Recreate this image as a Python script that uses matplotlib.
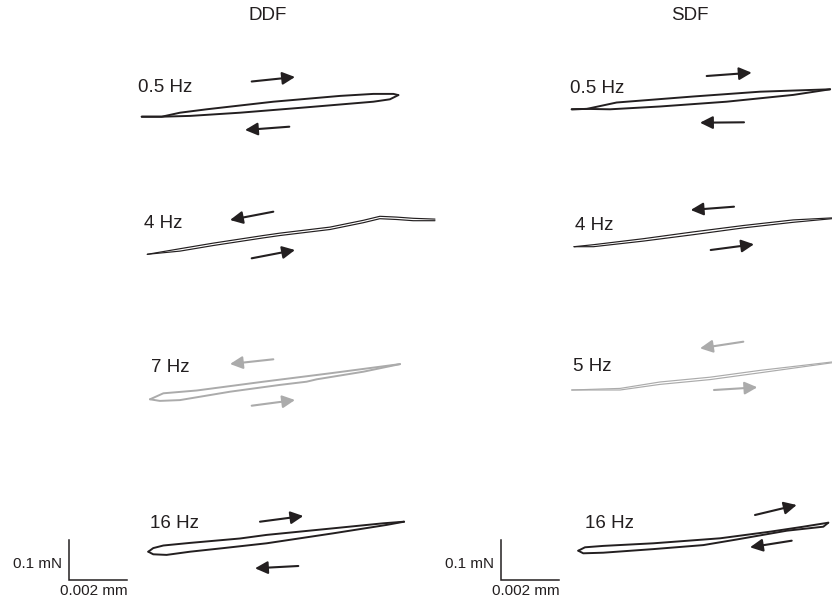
"""Force-displacement loops, DDF vs SDF at several stimulus frequencies."""

import matplotlib

matplotlib.use("Agg")
import matplotlib.pyplot as plt

plt.rcParams["font.family"] = ["Liberation Sans", "DejaVu Sans"]

# ---- data: displacement in um (relative to loop start), force in mN ----
# DDF 0.5 Hz (closed loop: out along upper branch, back along lower)
ddf05_up_x = [0, 0.69, 1.32, 2.24, 4.54, 6.84, 7.99, 8.68, 8.85]
ddf05_up_f = [0, 0.000, 0.010, 0.0185, 0.0375, 0.052, 0.057, 0.057, 0.054]
ddf05_lo_x = [8.85, 8.56, 7.99, 5.69, 3.39, 1.67, 0.69, 0]
ddf05_lo_f = [0.054, 0.0435, 0.0375, 0.0235, 0.010, 0.002, 0.000, 0]

# DDF 4 Hz (narrow, nearly overlapping branches)
ddf4_x = [0, 1.13, 2.28, 4.00, 4.58, 6.30, 7.45, 8.02, 8.60, 9.17, 9.92]
ddf4_up_f = [0, 0.014, 0.028, 0.047, 0.053, 0.068, 0.085, 0.095, 0.093, 0.090, 0.088]
ddf4_lo_f = [0, 0.008, 0.022, 0.041, 0.047, 0.062, 0.079, 0.089, 0.087, 0.084, 0.084]

# DDF 7 Hz
ddf7_up_x = [0, 0.46, 1.61, 3.91, 6.21, 8.62]
ddf7_up_f = [0, 0.015, 0.022, 0.044, 0.065, 0.088]
ddf7_lo_x = [8.62, 7.36, 5.75, 5.40, 4.48, 2.76, 1.03, 0.34, 0]
ddf7_lo_f = [0.088, 0.069, 0.050, 0.044, 0.036, 0.019, -0.002, -0.004, 0]

# DDF 16 Hz
ddf16_up_x = [0, 0.17, 0.52, 1.44, 3.16, 4.08, 6.38, 8.10, 8.82]
ddf16_up_f = [0, 0.009, 0.0155, 0.022, 0.033, 0.042, 0.0585, 0.071, 0.075]
ddf16_lo_x = [8.82, 8.22, 6.38, 4.08, 2.59, 1.44, 0.63, 0.17, 0]
ddf16_lo_f = [0.075, 0.067, 0.046, 0.021, 0.009, 0.000, -0.008, -0.0065, 0]

# SDF 0.5 Hz
sdf05_up_x = [0, 0.52, 1.55, 4.19, 6.49, 8.91]
sdf05_up_f = [0, 0.001, 0.017, 0.032, 0.044, 0.050]
sdf05_lo_x = [8.91, 7.64, 5.34, 3.04, 1.32, 0.52, 0]
sdf05_lo_f = [0.050, 0.036, 0.019, 0.007, 0.000, 0.001, 0]

# SDF 4 Hz
sdf4_x = [0, 0.67, 2.39, 4.11, 5.84, 7.56, 8.89]
sdf4_up_f = [0, 0.005, 0.020, 0.037, 0.053, 0.067, 0.072]
sdf4_lo_f = [0, 0.000, 0.014, 0.030, 0.047, 0.061, 0.070]

# SDF 5 Hz
sdf5_x = [0, 1.67, 3.04, 4.77, 6.49, 8.97]
sdf5_up_f = [0, 0.004, 0.020, 0.032, 0.049, 0.070]
sdf5_lo_f = [0, 0.000, 0.014, 0.026, 0.043, 0.068]

# SDF 16 Hz
sdf16_up_x = [0, 0.23, 0.86, 2.59, 4.89, 6.61, 7.76, 8.62]
sdf16_up_f = [0, 0.0085, 0.012, 0.0185, 0.031, 0.0475, 0.060, 0.070]
sdf16_lo_x = [8.62, 8.45, 7.19, 5.46, 4.31, 2.59, 0.86, 0.17, 0]
sdf16_lo_f = [0.070, 0.060, 0.050, 0.028, 0.014, 0.004, -0.005, -0.0065, 0]

col_titles = ["DDF", "SDF"]
scale_disp_um = 2.0      # 0.002 mm
scale_force_mN = 0.1

BLACK = "#231f20"
GREY = "#ababab"

# ---- layout (figure pixels -> data units) ----
W, H = 832, 600
PX_PER_UM, PX_PER_MN = 29.0, 400.0


def px(x, y):
    return x / PX_PER_UM, (H - y) / PX_PER_MN


fig = plt.figure(figsize=(W / 100, H / 100), dpi=100)
ax = fig.add_axes([0, 0, 1, 1])
ax.set_xlim(0, W / PX_PER_UM)
ax.set_ylim(0, H / PX_PER_MN)
ax.axis("off")


def loop(anchor, xs_up, fs_up, xs_lo, fs_lo, color, lw):
    ox, oy = px(*anchor)
    ax.plot([ox + v for v in xs_up], [oy + v for v in fs_up], color=color, lw=lw,
            solid_capstyle="round", solid_joinstyle="round")
    ax.plot([ox + v for v in xs_lo], [oy + v for v in fs_lo], color=color, lw=lw,
            solid_capstyle="round", solid_joinstyle="round")


def arrow(start, end, color):
    ax.annotate("", xy=px(*end), xytext=px(*start),
                arrowprops=dict(arrowstyle="-|>", color=color, lw=1.5,
                                mutation_scale=19, shrinkA=0, shrinkB=0))


def label(pos, text):
    ax.text(*px(*pos), text, fontsize=13.5, color=BLACK, ha="left", va="center")


# column headings
ax.text(*px(268, 15), col_titles[0], fontsize=13.5, color=BLACK, ha="center", va="center")
ax.text(*px(690, 15), col_titles[1], fontsize=13.5, color=BLACK, ha="center", va="center")

# DDF column
loop((141.7, 116.7), ddf05_up_x, ddf05_up_f, ddf05_lo_x, ddf05_lo_f, BLACK, 1.4)
label((138, 88), "0.5 Hz")
arrow((251.7, 81.5), (295, 77), BLACK)
arrow((289.3, 126.7), (245, 130), BLACK)

loop((147.3, 254.3), ddf4_x, ddf4_up_f, ddf4_x, ddf4_lo_f, BLACK, 0.85)
label((144, 224), "4 Hz")
arrow((273.3, 211.7), (230, 220), BLACK)
arrow((251.7, 258.3), (295, 250), BLACK)

loop((150, 399.3), ddf7_up_x, ddf7_up_f, ddf7_lo_x, ddf7_lo_f, GREY, 1.4)
label((151, 368), "7 Hz")
arrow((273.3, 359.3), (230, 364), GREY)
arrow((251.7, 405.7), (295, 400), GREY)

loop((148.3, 551.7), ddf16_up_x, ddf16_up_f, ddf16_lo_x, ddf16_lo_f, BLACK, 1.4)
label((150, 524), "16 Hz")
arrow((260, 521.7), (303.3, 516), BLACK)
arrow((298.3, 566), (255, 568.3), BLACK)

# SDF column
loop((571.7, 109.3), sdf05_up_x, sdf05_up_f, sdf05_lo_x, sdf05_lo_f, BLACK, 1.4)
label((570, 88.7), "0.5 Hz")
arrow((706.7, 76), (751.7, 72.7), BLACK)
arrow((744, 122.3), (700, 122.7), BLACK)

loop((574, 246.7), sdf4_x, sdf4_up_f, sdf4_x, sdf4_lo_f, BLACK, 0.85)
label((575, 225), "4 Hz")
arrow((734, 206.7), (690.7, 210), BLACK)
arrow((710.7, 250), (754, 244.3), BLACK)

loop((571.7, 390), sdf5_x, sdf5_up_f, sdf5_x, sdf5_lo_f, GREY, 0.85)
label((573, 366.7), "5 Hz")
arrow((743.3, 341.7), (700, 348.3), GREY)
arrow((714, 390), (757.3, 387.3), GREY)

loop((578.3, 550.7), sdf16_up_x, sdf16_up_f, sdf16_lo_x, sdf16_lo_f, BLACK, 1.4)
label((585, 524), "16 Hz")
arrow((755, 515), (796.7, 505), BLACK)
arrow((791.7, 540.7), (750, 547.3), BLACK)

# scale bars
for corner in [(69, 580), (500.7, 580)]:
    cx, cy = px(*corner)
    ax.plot([cx, cx, cx + scale_disp_um], [cy + scale_force_mN, cy, cy],
            color=BLACK, lw=1.1, solid_joinstyle="miter")
    ax.text(cx - 7 / PX_PER_UM, cy + 0.04, "0.1 mN", fontsize=11, color=BLACK,
            ha="right", va="center")
    ax.text(cx + scale_disp_um / 2 - 0.15, cy - 11 / PX_PER_MN, "0.002 mm",
            fontsize=11, color=BLACK, ha="center", va="center")

fig.savefig("out.png", dpi=100)
